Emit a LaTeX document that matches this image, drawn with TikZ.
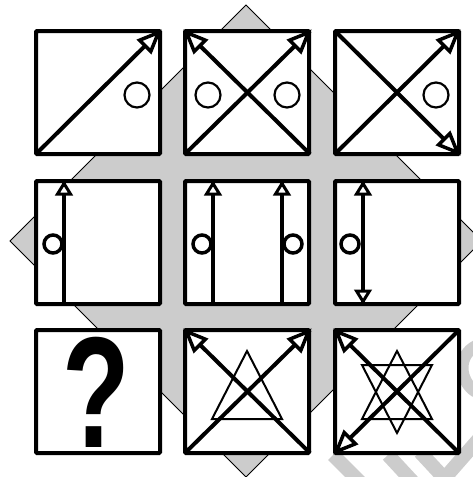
\documentclass[tikz,border=0pt]{standalone}
\usepackage{fontspec}
\usetikzlibrary{calc}
\newfontfamily\qfont{Liberation Sans}
\definecolor{dgray}{HTML}{CCCCCC}
\tikzset{
  cell/.style={draw=black, line width=4pt, fill=white, rounded corners=1pt},
  diag/.style={line width=4pt},
  headbig/.style={draw=black, fill=white, line width=3.5pt, line join=miter, miter limit=4},
  headsmall/.style={draw=black, fill=white, line width=3pt, line join=miter, miter limit=4},
  vline/.style={line width=4pt},
  thincirc/.style={draw, line width=2.2pt, fill=white, circle, minimum size=25pt, inner sep=0pt},
  thickcirc/.style={draw, line width=3.5pt, fill=white, circle, minimum size=18pt, inner sep=0pt},
  tri/.style={draw, line width=2pt},
  wm/.style={draw=dgray, line width=14pt},
}
% corner arrow heads (y axis points down)
\newcommand{\headTR}[1]{\draw[headbig] ([shift={(-1.6,1.6)}]#1) -- ([shift={(-9.2,20.4)}]#1) -- ([shift={(-20.4,9.2)}]#1) -- cycle;}
\newcommand{\headTL}[1]{\draw[headbig] ([shift={(1.6,1.6)}]#1) -- ([shift={(9.2,20.4)}]#1) -- ([shift={(20.4,9.2)}]#1) -- cycle;}
\newcommand{\headBR}[1]{\draw[headbig] ([shift={(-1.6,-1.6)}]#1) -- ([shift={(-9.2,-20.4)}]#1) -- ([shift={(-20.4,-9.2)}]#1) -- cycle;}
\newcommand{\headBL}[1]{\draw[headbig] ([shift={(1.6,-1.6)}]#1) -- ([shift={(9.2,-20.4)}]#1) -- ([shift={(20.4,-9.2)}]#1) -- cycle;}
\newcommand{\headUp}[1]{\draw[headsmall] ([shift={(0,2.5)}]#1) -- ([shift={(6.5,13)}]#1) -- ([shift={(-6.5,13)}]#1) -- cycle;}
\newcommand{\headDown}[1]{\draw[headsmall] ([shift={(0,-2.5)}]#1) -- ([shift={(6.5,-13)}]#1) -- ([shift={(-6.5,-13)}]#1) -- cycle;}
\begin{document}
\begin{tikzpicture}[x=1pt,y=-1pt]
\useasboundingbox (0,0) rectangle (473,477);
\fill[white] (0,0) rectangle (473,477);
% watermark strokes
\draw[wm] (333,455) -- (360,482);
\draw[wm] (388,455) -- (413,482);
\draw[wm] (420,452) -- (446,480);
\draw[wm] (443,480) -- (478,440);
\draw[wm, line width=12pt] (476,346) .. controls (458,355) and (458,380) .. (476,392);
% diamond
\draw[fill=dgray, line width=0.8pt] (246,5) coordinate (dt) -- (482,241) coordinate (dr) -- (246,477) coordinate (db) -- (10,241) coordinate (dl) -- cycle;
% cells
\foreach \x/\y in {36/31, 185/31, 335/31, 36/181, 185/181, 335/181, 36/330, 185/330, 335/330} {
  \draw[cell] (\x,\y) rectangle ++(124,123);
}
% row 1
\draw[diag] (36,154) coordinate (a1) -- (160,31) coordinate (b1);
\headTR{b1}
\node[thincirc] (o1) at (137,95) {};
\draw[diag] (310,154) coordinate (a2) -- (185,31) coordinate (b2);
\draw[diag] (185,154) coordinate (a3) -- (310,31) coordinate (b3);
\headTL{b2}
\headTR{b3}
\node[thincirc] (o2) at (208,95) {};
\node[thincirc] (o3) at (287,95) {};
\draw[diag] (335,154) coordinate (a4) -- (459,31) coordinate (b4);
\draw[diag] (335,31) coordinate (a5) -- (459,154) coordinate (b5);
\headTR{b4}
\headBR{b5}
\node[thincirc] (o4) at (436,95) {};
% row 2
\draw[vline] (64,304) coordinate (p1) -- (64,181) coordinate (q1);
\headUp{q1}
\node[thickcirc] (o5) at (53,244) {};
\draw[vline] (213,304) coordinate (p2) -- (213,181) coordinate (q2);
\headUp{q2}
\node[thickcirc] (o6) at (202,244) {};
\draw[vline] (282,304) coordinate (p3) -- (282,181) coordinate (q3);
\headUp{q3}
\node[thickcirc] (o7) at (293,244) {};
\draw[vline] (363,304) coordinate (p4) -- (363,181) coordinate (q4);
\headUp{q4}
\headDown{p4}
\node[thickcirc] (o8) at (350,244) {};
% row 3
\node[inner sep=0pt, xscale=0.7] (qm) at (96,392) {\qfont\bfseries\fontsize{158}{158}\selectfont ?};
\draw[tri] (247,351) coordinate (t1) -- (282,419) coordinate (t2) -- (212,419) coordinate (t3) -- cycle;
\draw[diag] (310,453) coordinate (a6) -- (185,330) coordinate (b6);
\draw[diag] (185,453) coordinate (a7) -- (310,330) coordinate (b7);
\headTL{b6}
\headTR{b7}
\draw[tri] (397,351) coordinate (u1) -- (432,419) coordinate (u2) -- (362,419) coordinate (u3) -- cycle;
\draw[tri] (397,433) coordinate (v1) -- (432,365) coordinate (v2) -- (362,365) coordinate (v3) -- cycle;
\draw[diag] (459,453) coordinate (a8) -- (335,330) coordinate (b8);
\draw[diag] (459,330) coordinate (a9) -- (335,453) coordinate (b9);
\headTL{b8}
\headBL{b9}
\end{tikzpicture}
\end{document}
